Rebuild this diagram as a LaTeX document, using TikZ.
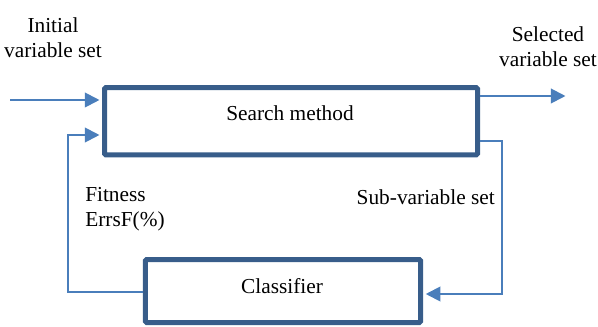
\documentclass[tikz,border=0pt]{standalone}
\usepackage{fontspec}
\setmainfont{Liberation Serif}
\usetikzlibrary{arrows.meta}
\definecolor{boxblue}{RGB}{56,93,138}
\definecolor{flowblue}{RGB}{74,126,187}
\tikzset{
  procbox/.style={draw=boxblue, line width=3.75pt, inner sep=0pt, rounded corners=1pt},
  flow/.style={draw=flowblue, line width=1.5pt, -{Triangle[length=11pt,width=11pt]}, shorten >=1.9pt},
  txt/.style={font=\fontsize{16}{19}\selectfont, inner sep=0pt, align=center}
}
\begin{document}
\begin{tikzpicture}[x=0.75pt,y=-0.75pt]
  \useasboundingbox (0,0) rectangle (598,327);
  % process boxes
  \node[procbox, minimum width=279.75pt, minimum height=50.6pt] (search) at (291,121.25) {};
  \node[procbox, minimum width=206.6pt, minimum height=47.25pt] (clf) at (283,291) {};
  \node[txt] (searchlbl) at (290,113) {Search method};
  \node[txt] (clflbl) at (282,286) {Classifier};
  % free ends of the connectors
  \coordinate (start) at (10,100);
  \coordinate (finish) at (568,96);
  \coordinate (subturn) at (502,141);
  \coordinate (fitturn) at (68,292);
  % connectors
  \draw[flow] (start) -- (start -| search.west);
  \draw[flow] (search.east |- finish) -- (finish);
  \draw[flow] (search.east |- subturn) -- (subturn) -- (subturn |- 0,294) -- (clf.east |- 0,294);
  \draw[flow] (clf.west |- fitturn) -- (fitturn) -- (fitturn |- 0,135) -- (search.west |- 0,135);
  % labels
  \node[txt] (inlbl) at (53,38) {Initial\\variable set};
  \node[txt] (outlbl) at (548,47) {Selected\\variable set};
  \node[txt, align=left, anchor=west] (fitlbl) at (85,209) {Fitness\\ErrsF(\%)};
  \node[txt, anchor=east] (sublbl) at (495,197) {Sub-variable set};
\end{tikzpicture}
\end{document}
